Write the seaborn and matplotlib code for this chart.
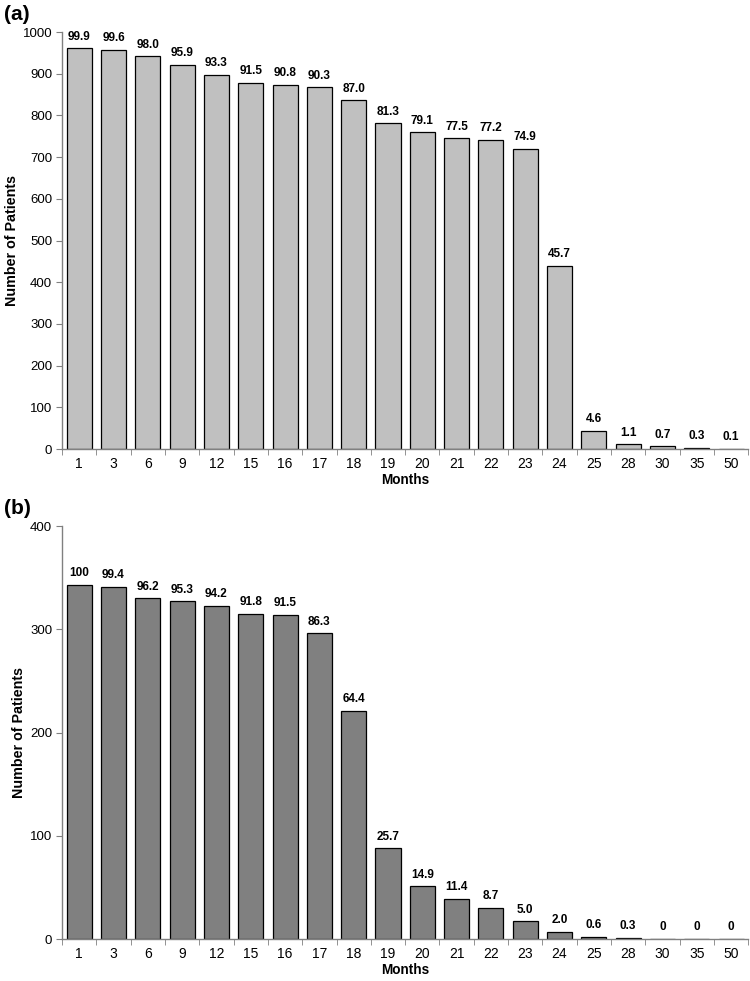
import numpy as np
import pandas as pd
import matplotlib
matplotlib.use("Agg")
import matplotlib.pyplot as plt
import seaborn as sns

months = ["1", "3", "6", "9", "12", "15", "16", "17", "18", "19",
          "20", "21", "22", "23", "24", "25", "28", "30", "35", "50"]

# panel (a): patients still on study, with percentages shown above bars
patients_a = [961, 957, 942, 922, 897, 879, 873, 868, 836, 781,
              760, 745, 742, 720, 439, 44, 11, 7, 3, 1]
pct_a = ["99.9", "99.6", "98.0", "95.9", "93.3", "91.5", "90.8", "90.3", "87.0", "81.3",
         "79.1", "77.5", "77.2", "74.9", "45.7", "4.6", "1.1", "0.7", "0.3", "0.1"]

# panel (b)
patients_b = [343, 341, 330, 327, 323, 315, 314, 296, 221, 88,
              51, 39, 30, 17, 7, 2, 1, 0, 0, 0]
pct_b = ["100", "99.4", "96.2", "95.3", "94.2", "91.8", "91.5", "86.3", "64.4", "25.7",
         "14.9", "11.4", "8.7", "5.0", "2.0", "0.6", "0.3", "0", "0", "0"]

sns.set_style("white")
plt.rcParams['font.family'] = ['Liberation Sans', 'DejaVu Sans']
plt.rcParams['text.color'] = 'black'
plt.rcParams['axes.labelcolor'] = 'black'

fig = plt.figure(figsize=(7.5, 9.81), dpi=100)
ax_a = fig.add_axes([0.0827, 0.5423, 0.915, 0.425])
ax_b = fig.add_axes([0.0827, 0.0428, 0.915, 0.421])


def draw_panel(ax, counts, pcts, color, ymax, letter):
    df = pd.DataFrame({"Months": months, "Patients": counts})
    sns.barplot(data=df, x="Months", y="Patients", order=months, color=color,
                edgecolor="black", linewidth=0.9, width=0.73, saturation=1,
                ax=ax)
    ax.bar_label(ax.containers[0], labels=pcts, padding=4,
                 fontsize=8.5, fontweight="bold", color="black")
    ax.set_xlim(-0.5, len(months) - 0.5)
    ax.set_ylim(0, ymax)
    ax.set_yticks(np.arange(0, ymax + 1, 100))
    ax.tick_params(axis="y", labelsize=9.5, length=4, direction="out",
                   color="#808080", labelcolor="black", left=True, pad=3)
    # labels centred on bars, tick marks between categories
    ax.set_xticks(np.arange(len(months)))
    ax.set_xticklabels(months)
    ax.tick_params(axis="x", which="major", length=0, labelsize=10, pad=6,
                   labelcolor="black")
    ax.set_xticks(np.arange(len(months) + 1) - 0.5, minor=True)
    ax.tick_params(axis="x", which="minor", length=4, direction="out",
                   color="#808080", bottom=True)
    for side in ["top", "right"]:
        ax.spines[side].set_visible(False)
    for side in ["left", "bottom"]:
        ax.spines[side].set_color("#808080")
        ax.spines[side].set_linewidth(1)
    ax.set_xlabel("Months", fontsize=9.8, fontweight="bold", labelpad=1)
    ax.set_ylabel("Number of Patients", fontsize=10.3, fontweight="bold", labelpad=3)
    ax.text(-0.085, 1.02, letter, transform=ax.transAxes, fontsize=15,
            fontweight="bold", ha="left", va="bottom")


draw_panel(ax_a, patients_a, pct_a, "#c0c0c0", 1000, "(a)")
draw_panel(ax_b, patients_b, pct_b, "#808080", 400, "(b)")

fig.savefig("out.png", dpi=100)
